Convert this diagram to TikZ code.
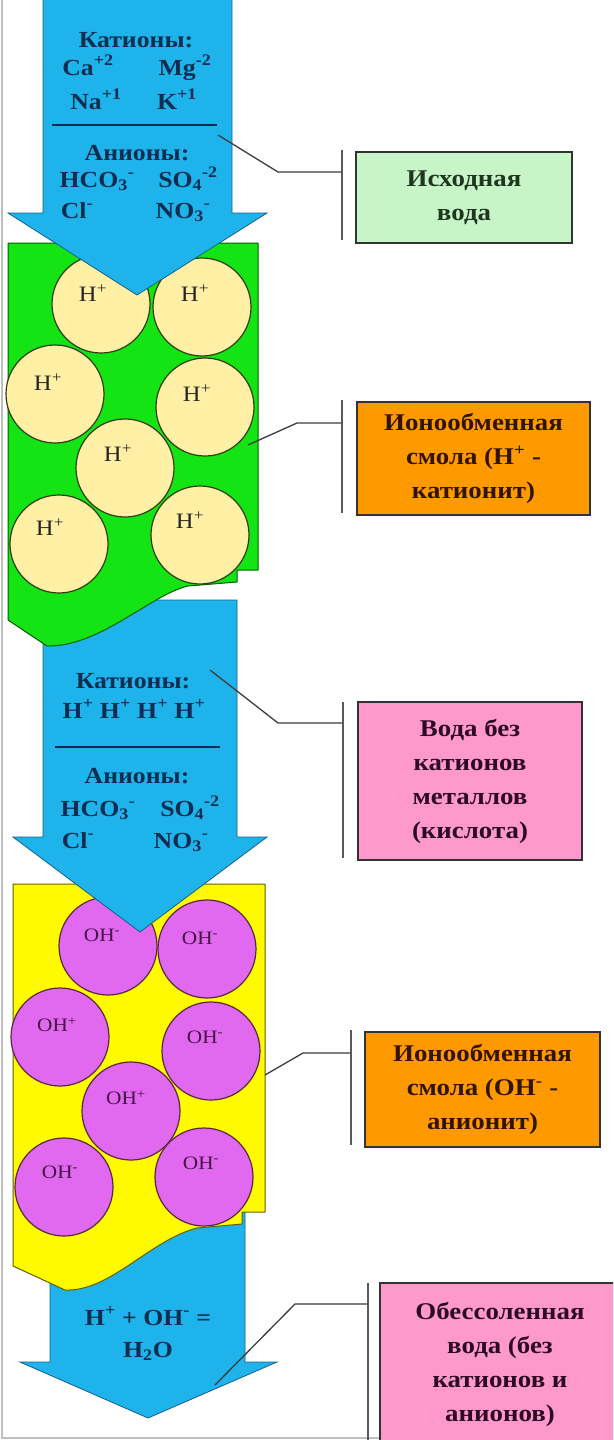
\documentclass[tikz,border=0pt]{standalone}
\usepackage{fontspec}
\setmainfont{Liberation Serif}[FakeStretch=1.12]
\definecolor{flow}{RGB}{30,180,235}
\definecolor{flowedge}{RGB}{20,95,140}
\definecolor{iontext}{RGB}{15,45,80}
\definecolor{catres}{RGB}{20,228,20}
\definecolor{catresedge}{RGB}{0,95,0}
\definecolor{anres}{RGB}{255,250,0}
\definecolor{anresedge}{RGB}{100,95,0}
\definecolor{hbeadfill}{RGB}{255,240,165}
\definecolor{hbeadedge}{RGB}{50,60,15}
\definecolor{ohbeadfill}{RGB}{225,105,240}
\definecolor{ohbeadedge}{RGB}{90,40,70}
\definecolor{rawfill}{RGB}{200,245,200}
\definecolor{resinfill}{RGB}{255,153,0}
\definecolor{acidfill}{RGB}{255,153,204}
\definecolor{leader}{RGB}{60,60,60}
\definecolor{frame}{RGB}{190,190,190}
\begin{document}
\begin{tikzpicture}[x=1pt,y=-1pt,
  flowarrow/.style={fill=flow,draw=flowedge,line width=0.8pt,line join=miter},
  resinbed/.style={line width=1pt,line join=round},
  hbead/.style={circle,draw=hbeadedge,fill=hbeadfill,line width=1.2pt,minimum size=98pt,inner sep=0pt},
  ohbead/.style={circle,draw=ohbeadedge,fill=ohbeadfill,line width=1.2pt,minimum size=98pt,inner sep=0pt},
  hlab/.style={font=\fontsize{22}{24}\selectfont,text=black!85,inner sep=0pt},
  ohlab/.style={font=\fontsize{19}{21}\selectfont,text={rgb,255:red,70;green,20;blue,70},inner sep=0pt},
  ion/.style={font=\fontsize{23}{26}\selectfont\bfseries,text=iontext,inner sep=0pt,anchor=base},
  rule/.style={draw=iontext,line width=1.2pt},
  infobox/.style={draw=black!80,line width=1.8pt,font=\fontsize{24}{34}\selectfont\bfseries,
    align=center,inner sep=0pt},
  leaderline/.style={draw=leader,line width=1.3pt},
  bracket/.style={draw=black!65,line width=2pt}
]
\clip (0,0) rectangle (613,1440);
\useasboundingbox (0,0) rectangle (613,1440);

% thin frame on the left and bottom
\draw[frame,line width=1.5pt] (2,0) -- (2,1438) -- (613,1438);

% ---- third arrow: desalted water (behind the anion bed)
\path[flowarrow] (50,1200) -- (245,1200) -- (245,1362) -- (277,1362) -- (148,1418)
  -- (20,1362) -- (50,1362) -- cycle;

% ---- anion exchange bed
\path[resinbed,fill=anres,draw=anresedge] (13,884) -- (265,884) -- (265,1212) -- (242,1212)
  -- (242,1224) -- (197,1228) .. controls (150,1240) and (110,1292) .. (65,1290)
  -- (13,1266) -- cycle;
\node[ohbead] (m1) at (108,946) {};
\node[ohbead] (m2) at (207,949) {};
\node[ohbead] (m3) at (60,1037) {};
\node[ohbead] (m4) at (211,1051) {};
\node[ohbead] (m5) at (131,1111) {};
\node[ohbead] (m6) at (64,1187) {};
\node[ohbead] (m7) at (204,1177) {};
\node[ohlab] at (102,935) {OH\textsuperscript{-}};
\node[ohlab] at (200,938) {OH\textsuperscript{-}};
\node[ohlab] at (57,1025) {OH\textsuperscript{+}};
\node[ohlab] at (205,1037) {OH\textsuperscript{-}};
\node[ohlab] at (126,1098) {OH\textsuperscript{+}};
\node[ohlab] at (60,1172) {OH\textsuperscript{-}};
\node[ohlab] at (201,1163) {OH\textsuperscript{-}};

% ---- second arrow: acidic water (behind the cation bed)
\path[flowarrow] (43,600) -- (237,600) -- (237,837) -- (267,837) -- (140,932)
  -- (13,837) -- (43,837) -- cycle;

% ---- cation exchange bed
\path[resinbed,fill=catres,draw=catresedge] (8,243) -- (258,243) -- (258,570) -- (237,570)
  -- (237,582) -- (188,586) .. controls (150,595) and (100,647) .. (47,646)
  -- (8,620) -- cycle;
\node[hbead] (h1) at (101,304) {};
\node[hbead] (h2) at (202,307) {};
\node[hbead] (h3) at (55,394) {};
\node[hbead] (h4) at (205,407) {};
\node[hbead] (h5) at (125,468) {};
\node[hbead] (h6) at (59,544) {};
\node[hbead] (h7) at (200,535) {};
\node[hlab] at (93,293) {H\textsuperscript{+}};
\node[hlab] at (195,293) {H\textsuperscript{+}};
\node[hlab] at (48,382) {H\textsuperscript{+}};
\node[hlab] at (197,393) {H\textsuperscript{+}};
\node[hlab] at (118,453) {H\textsuperscript{+}};
\node[hlab] at (50,527) {H\textsuperscript{+}};
\node[hlab] at (190,520) {H\textsuperscript{+}};

% ---- first arrow: raw water
\path[flowarrow] (43,-2) -- (232,-2) -- (232,213) -- (267,213) -- (137,295)
  -- (8,213) -- (43,213) -- cycle;

% ions in the raw water
\node[ion] at (136,47) {Катионы:};
\node[ion] at (88,75) {Ca\textsuperscript{+2}};
\node[ion] at (185,75) {Mg\textsuperscript{-2}};
\node[ion] at (96,109) {Na\textsuperscript{+1}};
\node[ion] at (177,109) {K\textsuperscript{+1}};
\coordinate (r1a) at (52,125);
\coordinate (r1b) at (217,125);
\draw[rule] (r1a) -- (r1b);
\node[ion] at (137,160) {Анионы:};
\node[ion] at (97,187) {HCO\textsubscript{3}\textsuperscript{-}};
\node[ion] at (188,187) {SO\textsubscript{4}\textsuperscript{-2}};
\node[ion] at (77,218) {Cl\textsuperscript{-}};
\node[ion] at (183,218) {NO\textsubscript{3}\textsuperscript{-}};

% ions after the cation bed
\node[ion] at (133,688) {Катионы:};
\node[ion] at (134,718) {H\textsuperscript{+} H\textsuperscript{+} H\textsuperscript{+} H\textsuperscript{+}};
\coordinate (r2a) at (55,747);
\coordinate (r2b) at (220,747);
\draw[rule] (r2a) -- (r2b);
\node[ion] at (137,783) {Анионы:};
\node[ion] at (98,816) {HCO\textsubscript{3}\textsuperscript{-}};
\node[ion] at (190,816) {SO\textsubscript{4}\textsuperscript{-2}};
\node[ion] at (78,848) {Cl\textsuperscript{-}};
\node[ion] at (181,848) {NO\textsubscript{3}\textsuperscript{-}};

% neutralisation
\node[ion] at (148,1325) {H\textsuperscript{+} + OH\textsuperscript{-} =};
\node[ion] at (148,1357) {H\textsubscript{2}O};

% ---- description boxes
\node[infobox,fill=rawfill,text={rgb,255:red,30;green,55;blue,30},
  minimum width=216pt,minimum height=91pt] (raw) at (464,197.5) {Исходная\\вода};
\node[infobox,fill=resinfill,text={rgb,255:red,50;green,20;blue,5},
  minimum width=233pt,minimum height=113pt] (cat) at (473.5,458.5)
  {Ионообменная\\смола (H\textsuperscript{+} -\\катионит)};
\node[infobox,fill=acidfill,text={rgb,255:red,45;green,10;blue,35},
  minimum width=224pt,minimum height=158pt] (acid) at (470,781)
  {Вода без\\катионов\\металлов\\(кислота)};
\node[infobox,fill=resinfill,text={rgb,255:red,50;green,20;blue,5},
  minimum width=235pt,minimum height=115pt] (an) at (482.5,1089.5)
  {Ионообменная\\смола (OH\textsuperscript{-} -\\анионит)};
\node[infobox,fill=acidfill,text={rgb,255:red,45;green,10;blue,35},
  minimum width=240pt,minimum height=162pt] (pure) at (500,1364)
  {Обессоленная\\вода (без\\катионов и\\анионов)};

% ---- leader lines with brackets
\coordinate (l1s) at (218,135); \coordinate (l1k) at (278,172); \coordinate (l1e) at (342,172);
\coordinate (b1t) at (342,150); \coordinate (b1b) at (342,240);
\draw[leaderline] (l1s) -- (l1k) -- (l1e);
\draw[bracket] (b1t) -- (b1b);

\coordinate (l2s) at (248,445); \coordinate (l2k) at (297,423); \coordinate (l2e) at (342,423);
\coordinate (b2t) at (342,400); \coordinate (b2b) at (342,513);
\draw[leaderline] (l2s) -- (l2k) -- (l2e);
\draw[bracket] (b2t) -- (b2b);

\coordinate (l3s) at (210,670); \coordinate (l3k) at (278,723); \coordinate (l3e) at (343,723);
\coordinate (b3t) at (343,702); \coordinate (b3b) at (343,858);
\draw[leaderline] (l3s) -- (l3k) -- (l3e);
\draw[bracket] (b3t) -- (b3b);

\coordinate (l4s) at (265,1075); \coordinate (l4k) at (303,1053); \coordinate (l4e) at (351,1053);
\coordinate (b4t) at (351,1030); \coordinate (b4b) at (351,1145);
\draw[leaderline] (l4s) -- (l4k) -- (l4e);
\draw[bracket] (b4t) -- (b4b);

\coordinate (l5s) at (215,1385); \coordinate (l5k) at (295,1304); \coordinate (l5e) at (368,1304);
\coordinate (b5t) at (368,1283); \coordinate (b5b) at (368,1440);
\draw[leaderline] (l5s) -- (l5k) -- (l5e);
\draw[bracket] (b5t) -- (b5b);
\end{tikzpicture}
\end{document}
